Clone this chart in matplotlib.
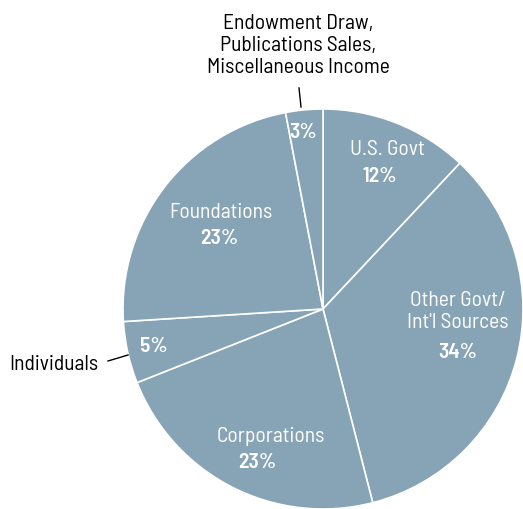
import matplotlib
matplotlib.use("Agg")
import matplotlib.pyplot as plt

# slice data, clockwise from 12 o'clock
categories = ["U.S. Govt", "Other Govt/\nInt'l Sources", "Corporations", "Individuals",
              "Foundations", "Endowment Draw,\nPublications Sales,\nMiscellaneous Income"]
shares = [12, 34, 23, 5, 23, 3]
pct_labels = ["12%", "34%", "23%", "5%", "23%", "3%"]

plt.rcParams["font.family"] = ["Barlow Semi Condensed", "DejaVu Sans"]

fill = "#87a4b6"
fs = 15.5

fig = plt.figure(figsize=(5.23, 5.10), dpi=100)
ax = fig.add_axes([123 / 523, 0, 400 / 523, 400 / 510])
wedges, _ = ax.pie(shares, startangle=90, counterclock=False, colors=[fill] * len(shares),
                   wedgeprops=dict(edgecolor="white", linewidth=1.2), radius=1)
ax.set_xlim(-1, 1)
ax.set_ylim(-1, 1)
ax.set_aspect("equal")
ax.axis("off")


def px(x, y):
    # pixel position in the picture -> data coords of the pie
    return (x - 323) / 200, (310 - y) / 200


inside = {
    0: ((387, 150), (380, 177)),
    1: ((458, 312), (458, 352)),
    2: ((271, 437), (257, 463)),
    4: ((221, 212), (219, 239)),
}
for i, (name_pos, pct_pos) in inside.items():
    ax.text(*px(*name_pos), categories[i], color="white", fontsize=fs, ha="center", va="center",
            linespacing=1.2)
    ax.text(*px(*pct_pos), pct_labels[i], color="white", fontsize=fs, fontweight=600,
            ha="center", va="center")

# small slices: percent inside, name outside with a leader line
ax.text(*px(154, 346), pct_labels[3], color="white", fontsize=fs, fontweight=600,
        ha="center", va="center")
ax.text(*px(98, 364), categories[3], color="black", fontsize=fs, ha="right", va="center",
        clip_on=False)
ax.plot(*zip(px(108, 362), px(128, 356)), color="black", lw=1, clip_on=False)

ax.text(*px(303, 133), pct_labels[5], color="white", fontsize=fs, fontweight=600,
        ha="center", va="center")
ax.text(*px(298, 46), categories[5], color="black", fontsize=fs, ha="center", va="center",
        linespacing=1.2, clip_on=False)
ax.plot(*zip(px(299, 89), px(301, 108)), color="black", lw=1, clip_on=False)

fig.savefig("out.png", dpi=100)
